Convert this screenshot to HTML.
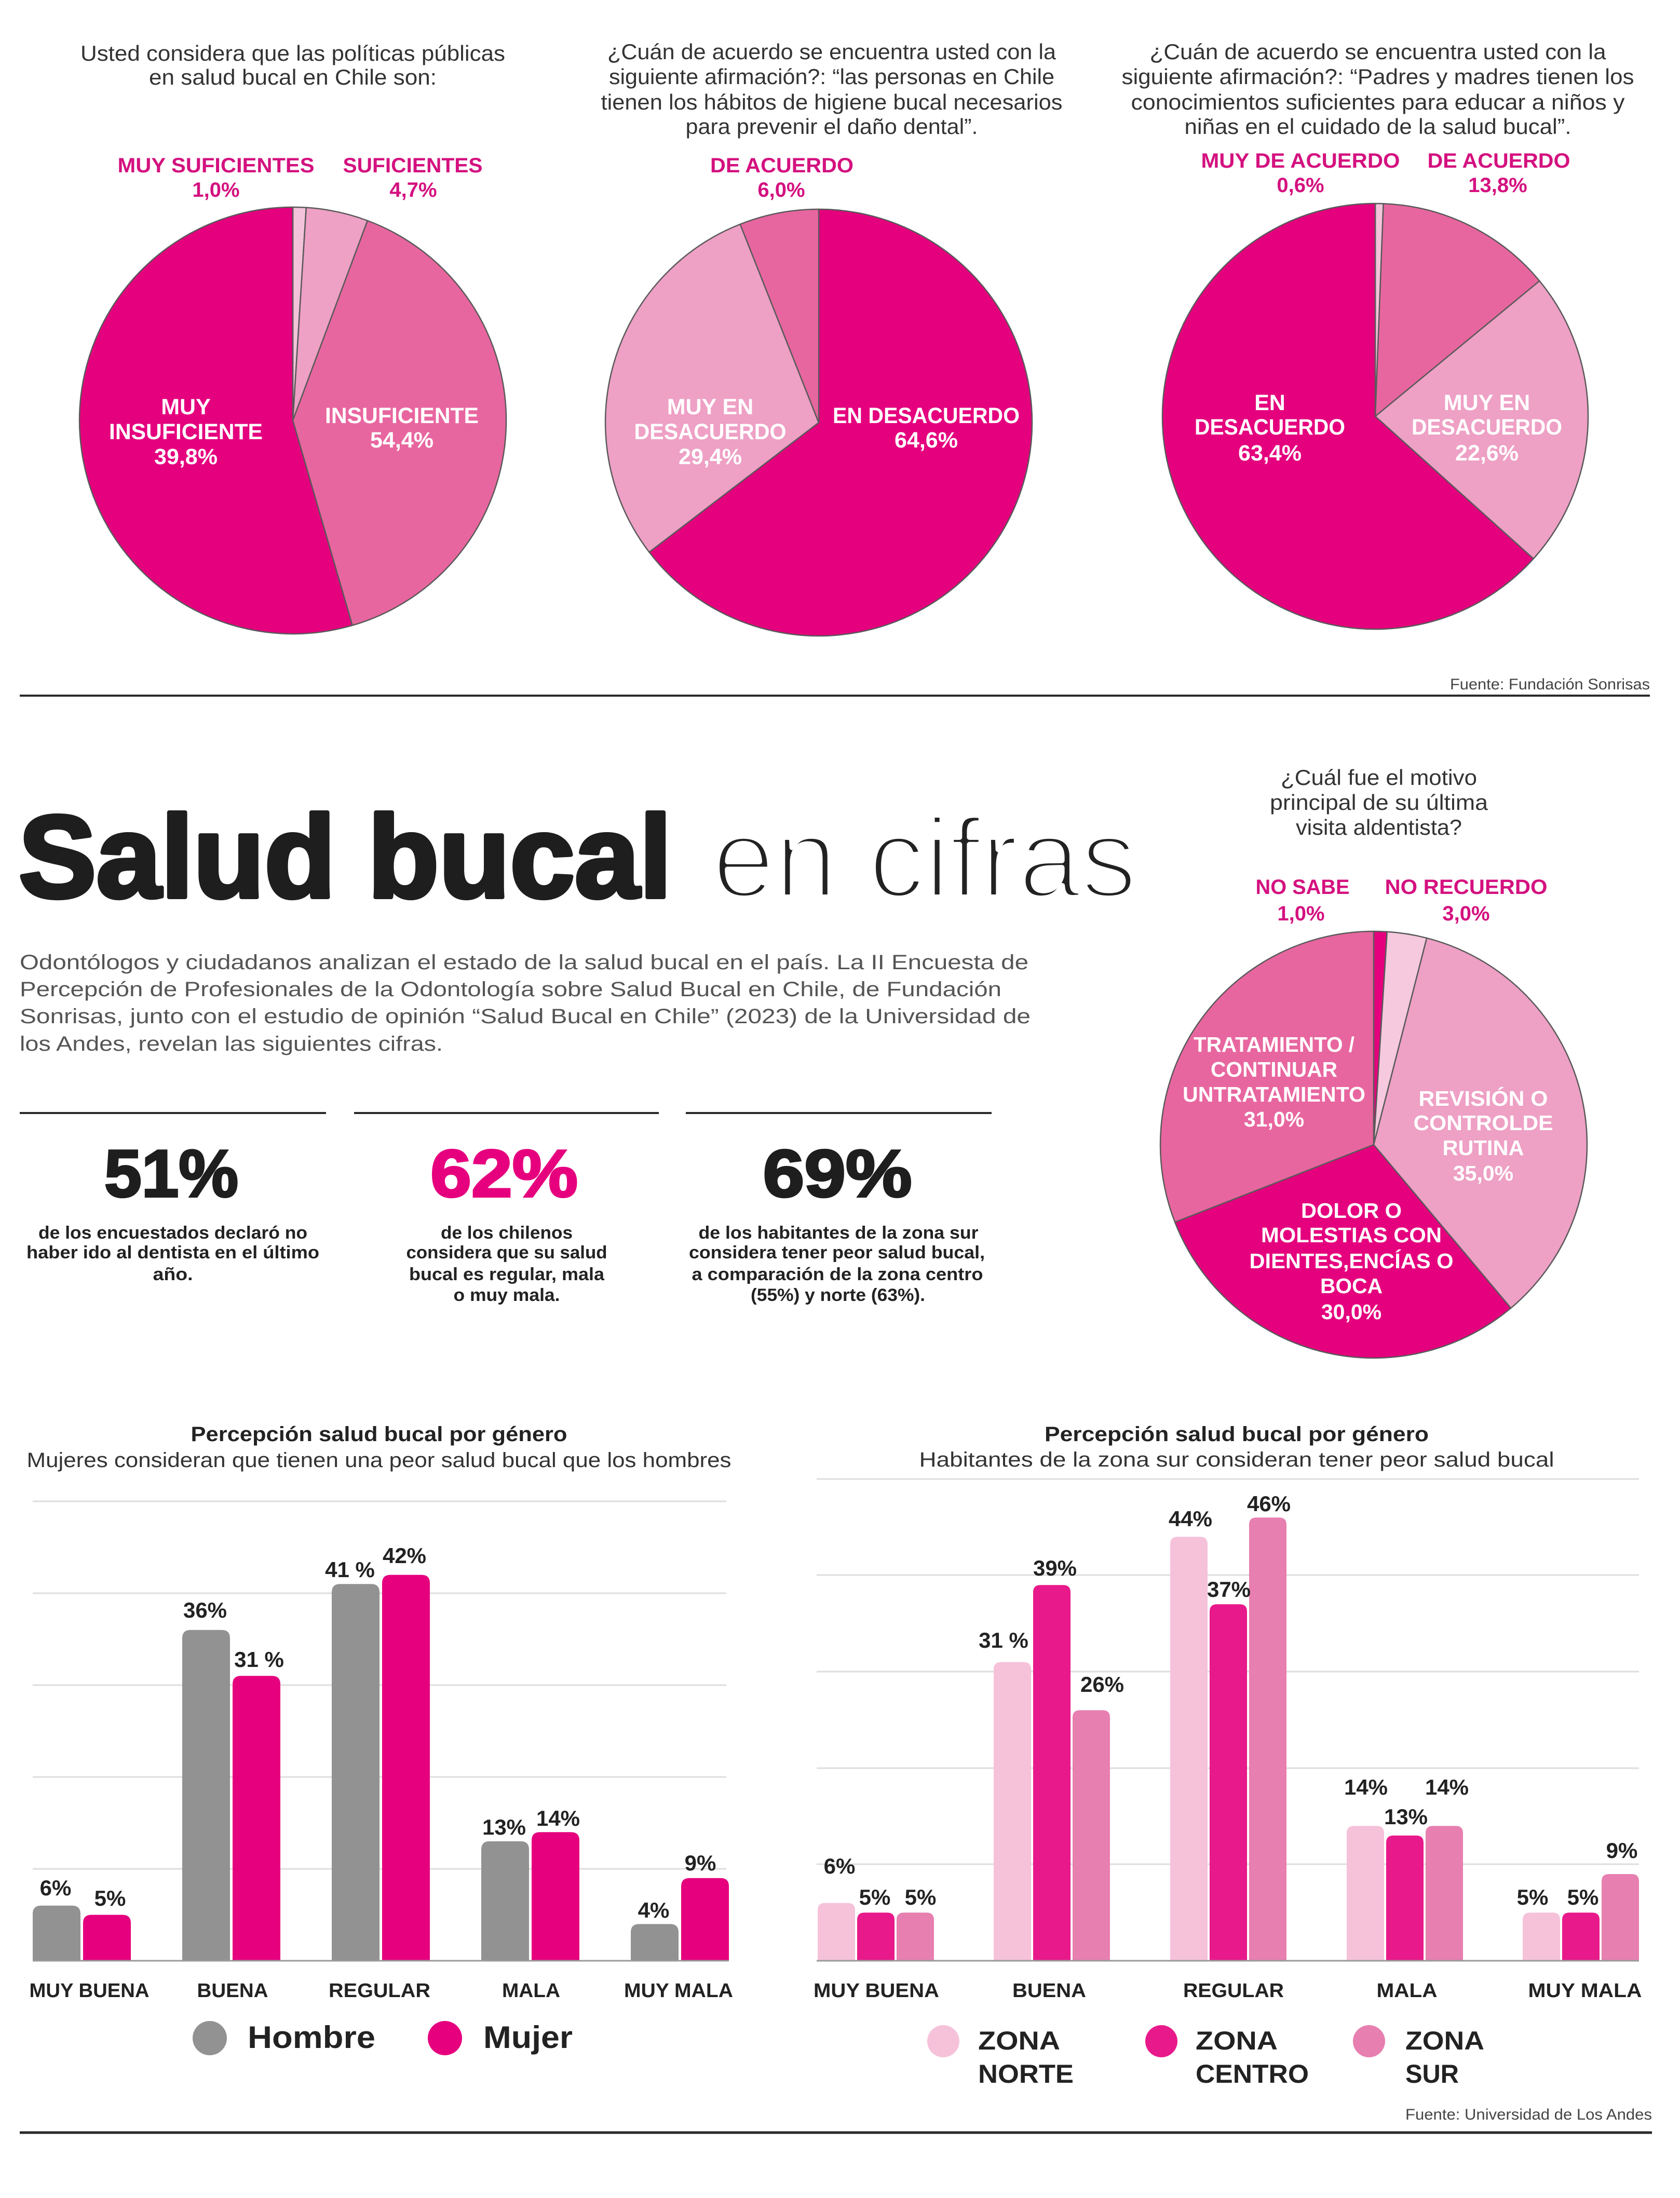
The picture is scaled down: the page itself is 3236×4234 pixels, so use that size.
<!DOCTYPE html>
<html><head><meta charset="utf-8"><style>
html,body{margin:0;padding:0;background:#fff;}
svg{display:block;}
text{font-family:"Liberation Sans",Arial,sans-serif;}
.t{fill:#333;font-size:42px;text-anchor:middle;}
.pk{fill:#d4117f;font-size:40px;font-weight:bold;text-anchor:middle;}
.w{fill:#fff;font-size:43px;font-weight:bold;text-anchor:middle;}
.w4{fill:#fff;font-size:41px;font-weight:bold;text-anchor:middle;}
.cap{fill:#222;font-size:34px;font-weight:bold;text-anchor:middle;}
.par{fill:#555;font-size:40px;}
.v{fill:#222;font-size:42px;font-weight:bold;text-anchor:middle;}
.cat{fill:#222;font-size:38px;font-weight:bold;text-anchor:middle;}
.sl{stroke:#5a5a5a;stroke-width:2.5;stroke-linejoin:round;}
</style></head><body>
<svg width="3236" height="4234" viewBox="0 0 3236 4234" xmlns="http://www.w3.org/2000/svg">
<rect width="3236" height="4234" fill="#fff"/>

<!-- PIE 1 -->
<text class="t" x="564" y="117" textLength="818" lengthAdjust="spacingAndGlyphs">Usted considera que las políticas públicas</text>
<text class="t" x="564" y="163" textLength="554" lengthAdjust="spacingAndGlyphs">en salud bucal en Chile son:</text>
<text class="pk" x="416" y="332" textLength="379" lengthAdjust="spacingAndGlyphs">MUY SUFICIENTES</text>
<text class="pk" x="416" y="379">1,0%</text>
<text class="pk" x="795" y="332" textLength="269" lengthAdjust="spacingAndGlyphs">SUFICIENTES</text>
<text class="pk" x="796" y="379">4,7%</text>
<g class="sl">
<path d="M564,810L564,399A411,411 0 0 1 589.8,399.8Z" fill="#f3c3da"/>
<path d="M564,810L589.8,399.8A411,411 0 0 1 707.9,425Z" fill="#eea0c5"/>
<path d="M564,810L707.9,425A411,411 0 0 1 678.7,1204.7Z" fill="#e8669f"/>
<path d="M564,810L678.7,1204.7A411,411 0 1 1 564,399Z" fill="#e5007e"/>
</g>
<text class="w" x="358" y="798">MUY</text>
<text class="w" x="358" y="846" textLength="296" lengthAdjust="spacingAndGlyphs">INSUFICIENTE</text>
<text class="w" x="358" y="894">39,8%</text>
<text class="w" x="774" y="815" textLength="296" lengthAdjust="spacingAndGlyphs">INSUFICIENTE</text>
<text class="w" x="774" y="862">54,4%</text>

<!-- PIE 2 -->
<text class="t" x="1602" y="114" textLength="864" lengthAdjust="spacingAndGlyphs">¿Cuán de acuerdo se encuentra usted con la</text>
<text class="t" x="1602" y="162" textLength="858" lengthAdjust="spacingAndGlyphs">siguiente afirmación?: “las personas en Chile</text>
<text class="t" x="1602" y="211" textLength="889" lengthAdjust="spacingAndGlyphs">tienen los hábitos de higiene bucal necesarios</text>
<text class="t" x="1602" y="258" textLength="563" lengthAdjust="spacingAndGlyphs">para prevenir el daño dental”.</text>
<text class="pk" x="1506" y="332" textLength="276" lengthAdjust="spacingAndGlyphs">DE ACUERDO</text>
<text class="pk" x="1505" y="379">6,0%</text>
<g class="sl">
<path d="M1577,814L1577,403A411,411 0 1 1 1250.5,1063.6Z" fill="#e5007e"/>
<path d="M1577,814L1250.5,1063.6A411,411 0 0 1 1425.7,431.9Z" fill="#eea0c5"/>
<path d="M1577,814L1425.7,431.9A411,411 0 0 1 1577,403Z" fill="#e8669f"/>
</g>
<text class="w" x="1368" y="798">MUY EN</text>
<text class="w" x="1368" y="846" textLength="293" lengthAdjust="spacingAndGlyphs">DESACUERDO</text>
<text class="w" x="1368" y="894">29,4%</text>
<text class="w" x="1784" y="815" textLength="360" lengthAdjust="spacingAndGlyphs">EN DESACUERDO</text>
<text class="w" x="1784" y="862">64,6%</text>

<!-- PIE 3 -->
<text class="t" x="2654" y="114" textLength="879" lengthAdjust="spacingAndGlyphs">¿Cuán de acuerdo se encuentra usted con la</text>
<text class="t" x="2654" y="162" textLength="987" lengthAdjust="spacingAndGlyphs">siguiente afirmación?: “Padres y madres tienen los</text>
<text class="t" x="2654" y="211" textLength="951" lengthAdjust="spacingAndGlyphs">conocimientos suficientes para educar a niños y</text>
<text class="t" x="2654" y="258" textLength="745" lengthAdjust="spacingAndGlyphs">niñas en el cuidado de la salud bucal”.</text>
<text class="pk" x="2505" y="323" textLength="383" lengthAdjust="spacingAndGlyphs">MUY DE ACUERDO</text>
<text class="pk" x="2505" y="370">0,6%</text>
<text class="pk" x="2887" y="323" textLength="275" lengthAdjust="spacingAndGlyphs">DE ACUERDO</text>
<text class="pk" x="2885" y="370">13,8%</text>
<g class="sl">
<path d="M2649,802L2649,392A410,410 0 0 1 2664.7,392.3Z" fill="#f3c3da"/>
<path d="M2649,802L2664.7,392.3A410,410 0 0 1 2965.4,541.2Z" fill="#e8669f"/>
<path d="M2649,802L2965.4,541.2A410,410 0 0 1 2953.7,1076.3Z" fill="#eea0c5"/>
<path d="M2649,802L2953.7,1076.3A410,410 0 1 1 2649,392Z" fill="#e5007e"/>
</g>
<text class="w" x="2446" y="790">EN</text>
<text class="w" x="2446" y="837" textLength="290" lengthAdjust="spacingAndGlyphs">DESACUERDO</text>
<text class="w" x="2446" y="887">63,4%</text>
<text class="w" x="2864" y="790">MUY EN</text>
<text class="w" x="2864" y="837" textLength="290" lengthAdjust="spacingAndGlyphs">DESACUERDO</text>
<text class="w" x="2864" y="887">22,6%</text>

<text x="3178" y="1328" text-anchor="end" font-size="30" fill="#444" textLength="385" lengthAdjust="spacingAndGlyphs">Fuente: Fundación Sonrisas</text>
<line x1="38" y1="1340" x2="3178" y2="1340" stroke="#2a2a2a" stroke-width="4"/>

<!-- TITLE -->
<text x="36" y="1728" font-size="225" font-weight="bold" fill="#1e1e1e" stroke="#1e1e1e" stroke-width="8" stroke-linejoin="round" textLength="1258" lengthAdjust="spacingAndGlyphs">Salud bucal</text>
<text x="1372" y="1728" font-size="218" fill="#222" textLength="818" lengthAdjust="spacingAndGlyphs">en cifras</text>
<text x="1372" y="1728" font-size="218" fill="none" stroke="#fff" stroke-width="10" stroke-linejoin="round" textLength="818" lengthAdjust="spacingAndGlyphs">en cifras</text>

<!-- PARAGRAPH -->
<text class="par" x="38" y="1867" textLength="1943" lengthAdjust="spacingAndGlyphs">Odontólogos y ciudadanos analizan el estado de la salud bucal en el país. La II Encuesta de</text>
<text class="par" x="38" y="1919" textLength="1891" lengthAdjust="spacingAndGlyphs">Percepción de Profesionales de la Odontología sobre Salud Bucal en Chile, de Fundación</text>
<text class="par" x="38" y="1971" textLength="1947" lengthAdjust="spacingAndGlyphs">Sonrisas, junto con el estudio de opinión “Salud Bucal en Chile” (2023) de la Universidad de</text>
<text class="par" x="38" y="2024" textLength="815" lengthAdjust="spacingAndGlyphs">los Andes, revelan las siguientes cifras.</text>

<!-- STATS -->
<g stroke="#2a2a2a" stroke-width="4">
<line x1="38" y1="2144" x2="628" y2="2144"/>
<line x1="682" y1="2144" x2="1269" y2="2144"/>
<line x1="1321" y1="2144" x2="1910" y2="2144"/>
</g>
<text x="330" y="2305" font-size="129" font-weight="bold" fill="#1e1e1e" stroke="#1e1e1e" stroke-width="4" text-anchor="middle" textLength="258" lengthAdjust="spacingAndGlyphs">51%</text>
<text x="971" y="2305" font-size="129" font-weight="bold" fill="#e6007e" stroke="#e6007e" stroke-width="4" text-anchor="middle" textLength="284" lengthAdjust="spacingAndGlyphs">62%</text>
<text x="1613" y="2305" font-size="129" font-weight="bold" fill="#1e1e1e" stroke="#1e1e1e" stroke-width="4" text-anchor="middle" textLength="287" lengthAdjust="spacingAndGlyphs">69%</text>

<text class="cap" x="333" y="2386" textLength="518" lengthAdjust="spacingAndGlyphs">de los encuestados declaró no</text>
<text class="cap" x="333" y="2424" textLength="564" lengthAdjust="spacingAndGlyphs">haber ido al dentista en el último</text>
<text class="cap" x="333" y="2466" textLength="77" lengthAdjust="spacingAndGlyphs">año.</text>
<text class="cap" x="976" y="2386" textLength="254" lengthAdjust="spacingAndGlyphs">de los chilenos</text>
<text class="cap" x="976" y="2424" textLength="387" lengthAdjust="spacingAndGlyphs">considera que su salud</text>
<text class="cap" x="976" y="2466" textLength="376" lengthAdjust="spacingAndGlyphs">bucal es regular, mala</text>
<text class="cap" x="976" y="2506" textLength="205" lengthAdjust="spacingAndGlyphs">o muy mala.</text>
<text class="cap" x="1615" y="2386" textLength="539" lengthAdjust="spacingAndGlyphs">de los habitantes de la zona sur</text>
<text class="cap" x="1612" y="2424" textLength="570" lengthAdjust="spacingAndGlyphs">considera tener peor salud bucal,</text>
<text class="cap" x="1613" y="2466" textLength="561" lengthAdjust="spacingAndGlyphs">a comparación de la zona centro</text>
<text class="cap" x="1614" y="2506" textLength="336" lengthAdjust="spacingAndGlyphs">(55%) y norte (63%).</text>

<!-- PIE 4 -->
<text class="t" x="2656" y="1512" textLength="378" lengthAdjust="spacingAndGlyphs">¿Cuál fue el motivo</text>
<text class="t" x="2656" y="1560" textLength="420" lengthAdjust="spacingAndGlyphs">principal de su última</text>
<text class="t" x="2656" y="1608" textLength="320" lengthAdjust="spacingAndGlyphs">visita aldentista?</text>
<text class="pk" x="2509" y="1722" textLength="181" lengthAdjust="spacingAndGlyphs">NO SABE</text>
<text class="pk" x="2506" y="1773">1,0%</text>
<text class="pk" x="2824" y="1722" textLength="313" lengthAdjust="spacingAndGlyphs">NO RECUERDO</text>
<text class="pk" x="2824" y="1773">3,0%</text>
<g class="sl">
<path d="M2646,2205L2646,1794A411,411 0 0 1 2671.8,1794.8Z" fill="#e5007e"/>
<path d="M2646,2205L2671.8,1794.8A411,411 0 0 1 2748.2,1806.9Z" fill="#f6c9de"/>
<path d="M2646,2205L2748.2,1806.9A411,411 0 0 1 2910.2,2519.8Z" fill="#eea0c5"/>
<path d="M2646,2205L2910.2,2519.8A411,411 0 0 1 2263.1,2354.3Z" fill="#e5007e"/>
<path d="M2646,2205L2263.1,2354.3A411,411 0 0 1 2646,1794Z" fill="#e8669f"/>
</g>
<text class="w4" x="2454" y="2026" textLength="310" lengthAdjust="spacingAndGlyphs">TRATAMIENTO /</text>
<text class="w4" x="2454" y="2074" textLength="244" lengthAdjust="spacingAndGlyphs">CONTINUAR</text>
<text class="w4" x="2454" y="2122" textLength="352" lengthAdjust="spacingAndGlyphs">UNTRATAMIENTO</text>
<text class="w4" x="2454" y="2170">31,0%</text>
<text class="w4" x="2857" y="2130" textLength="249" lengthAdjust="spacingAndGlyphs">REVISIÓN O</text>
<text class="w4" x="2857" y="2177" textLength="269" lengthAdjust="spacingAndGlyphs">CONTROLDE</text>
<text class="w4" x="2857" y="2225" textLength="157" lengthAdjust="spacingAndGlyphs">RUTINA</text>
<text class="w4" x="2857" y="2274">35,0%</text>
<text class="w4" x="2603" y="2346" textLength="194" lengthAdjust="spacingAndGlyphs">DOLOR O</text>
<text class="w4" x="2603" y="2393" textLength="348" lengthAdjust="spacingAndGlyphs">MOLESTIAS CON</text>
<text class="w4" x="2603" y="2443" textLength="393" lengthAdjust="spacingAndGlyphs">DIENTES,ENCÍAS O</text>
<text class="w4" x="2603" y="2491" textLength="120" lengthAdjust="spacingAndGlyphs">BOCA</text>
<text class="w4" x="2603" y="2541">30,0%</text>

<!-- LEFT BAR CHART -->
<text x="730" y="2776" font-size="40" font-weight="bold" fill="#222" text-anchor="middle" textLength="725" lengthAdjust="spacingAndGlyphs">Percepción salud bucal por género</text>
<text x="730" y="2826" font-size="40" fill="#333" text-anchor="middle" textLength="1357" lengthAdjust="spacingAndGlyphs">Mujeres consideran que tienen una peor salud bucal que los hombres</text>
<g stroke="#dedede" stroke-width="3">
<line x1="63" y1="2892" x2="1399" y2="2892"/>
<line x1="63" y1="3069" x2="1399" y2="3069"/>
<line x1="63" y1="3246" x2="1399" y2="3246"/>
<line x1="63" y1="3423" x2="1399" y2="3423"/>
<line x1="63" y1="3600" x2="1399" y2="3600"/>
</g>
<g fill="#929292">
<path d="M63,3777V3686.8Q63,3670.8 79,3670.8H139Q155,3670.8 155,3686.8V3777Z"/>
<path d="M351,3777V3155.8Q351,3139.8 367,3139.8H427Q443,3139.8 443,3155.8V3777Z"/>
<path d="M639,3777V3067.3Q639,3051.3 655,3051.3H715Q731,3051.3 731,3067.3V3777Z"/>
<path d="M927,3777V3562.9Q927,3546.9 943,3546.9H1003Q1019,3546.9 1019,3562.9V3777Z"/>
<path d="M1215,3777V3722.2Q1215,3706.2 1231,3706.2H1291Q1307,3706.2 1307,3722.2V3777Z"/>
</g>
<g fill="#e6007e">
<path d="M160,3777V3704.5Q160,3688.5 176,3688.5H236Q252,3688.5 252,3704.5V3777Z"/>
<path d="M448,3777V3244.3Q448,3228.3 464,3228.3H524Q540,3228.3 540,3244.3V3777Z"/>
<path d="M736,3777V3049.6Q736,3033.6 752,3033.6H812Q828,3033.6 828,3049.6V3777Z"/>
<path d="M1024,3777V3545.2Q1024,3529.2 1040,3529.2H1100Q1116,3529.2 1116,3545.2V3777Z"/>
<path d="M1312,3777V3633.7Q1312,3617.7 1328,3617.7H1388Q1404,3617.7 1404,3633.7V3777Z"/>
</g>
<line x1="63" y1="3777" x2="1404" y2="3777" stroke="#9a9a9a" stroke-width="3"/>
<text class="v" x="107" y="3651">6%</text>
<text class="v" x="212" y="3671">5%</text>
<text class="v" x="395" y="3116">36%</text>
<text class="v" x="499" y="3211">31 %</text>
<text class="v" x="674" y="3038">41 %</text>
<text class="v" x="779" y="3011">42%</text>
<text class="v" x="971" y="3534">13%</text>
<text class="v" x="1075" y="3517">14%</text>
<text class="v" x="1259" y="3694">4%</text>
<text class="v" x="1349" y="3603">9%</text>
<text class="cat" x="172" y="3847" textLength="231" lengthAdjust="spacingAndGlyphs">MUY BUENA</text>
<text class="cat" x="448" y="3847" textLength="137" lengthAdjust="spacingAndGlyphs">BUENA</text>
<text class="cat" x="731" y="3847" textLength="196" lengthAdjust="spacingAndGlyphs">REGULAR</text>
<text class="cat" x="1023" y="3847" textLength="112" lengthAdjust="spacingAndGlyphs">MALA</text>
<text class="cat" x="1307" y="3847" textLength="210" lengthAdjust="spacingAndGlyphs">MUY MALA</text>
<circle cx="404" cy="3926" r="33" fill="#929292"/>
<circle cx="857" cy="3926" r="33" fill="#e6007e"/>
<text x="477" y="3945" font-size="60" font-weight="bold" fill="#222" textLength="246" lengthAdjust="spacingAndGlyphs">Hombre</text>
<text x="931" y="3945" font-size="60" font-weight="bold" fill="#222" textLength="172" lengthAdjust="spacingAndGlyphs">Mujer</text>

<!-- RIGHT BAR CHART -->
<text x="2382" y="2776" font-size="40" font-weight="bold" fill="#222" text-anchor="middle" textLength="740" lengthAdjust="spacingAndGlyphs">Percepción salud bucal por género</text>
<text x="2382" y="2825" font-size="40" fill="#333" text-anchor="middle" textLength="1223" lengthAdjust="spacingAndGlyphs">Habitantes de la zona sur consideran tener peor salud bucal</text>
<g stroke="#dedede" stroke-width="3">
<line x1="1573" y1="2849" x2="3157" y2="2849"/>
<line x1="1573" y1="3034" x2="3157" y2="3034"/>
<line x1="1573" y1="3220" x2="3157" y2="3220"/>
<line x1="1573" y1="3406" x2="3157" y2="3406"/>
<line x1="1573" y1="3591" x2="3157" y2="3591"/>
</g>
<g fill="#f5c2da">
<path d="M1575,3777V3679.6Q1575,3665.6 1589,3665.6H1633Q1647,3665.6 1647,3679.6V3777Z"/>
<path d="M1914,3777V3215.6Q1914,3201.6 1928,3201.6H1972Q1986,3201.6 1986,3215.6V3777Z"/>
<path d="M2254,3777V2974.4Q2254,2960.4 2268,2960.4H2312Q2326,2960.4 2326,2974.4V3777Z"/>
<path d="M2594,3777V3531.2Q2594,3517.2 2608,3517.2H2652Q2666,3517.2 2666,3531.2V3777Z"/>
<path d="M2933,3777V3698.2Q2933,3684.2 2947,3684.2H2991Q3005,3684.2 3005,3698.2V3777Z"/>
</g>
<g fill="#e8198a">
<path d="M1651,3777V3698.2Q1651,3684.2 1665,3684.2H1709Q1723,3684.2 1723,3698.2V3777Z"/>
<path d="M1990,3777V3067.2Q1990,3053.2 2004,3053.2H2048Q2062,3053.2 2062,3067.2V3777Z"/>
<path d="M2330,3777V3104.3Q2330,3090.3 2344,3090.3H2388Q2402,3090.3 2402,3104.3V3777Z"/>
<path d="M2670,3777V3549.7Q2670,3535.7 2684,3535.7H2728Q2742,3535.7 2742,3549.7V3777Z"/>
<path d="M3009,3777V3698.2Q3009,3684.2 3023,3684.2H3067Q3081,3684.2 3081,3698.2V3777Z"/>
</g>
<g fill="#e77fb0">
<path d="M1727,3777V3698.2Q1727,3684.2 1741,3684.2H1785Q1799,3684.2 1799,3698.2V3777Z"/>
<path d="M2066,3777V3308.4Q2066,3294.4 2080,3294.4H2124Q2138,3294.4 2138,3308.4V3777Z"/>
<path d="M2406,3777V2937.2Q2406,2923.2 2420,2923.2H2464Q2478,2923.2 2478,2937.2V3777Z"/>
<path d="M2746,3777V3531.2Q2746,3517.2 2760,3517.2H2804Q2818,3517.2 2818,3531.2V3777Z"/>
<path d="M3085,3777V3624Q3085,3610 3099,3610H3143Q3157,3610 3157,3624V3777Z"/>
</g>
<line x1="1573" y1="3777" x2="3157" y2="3777" stroke="#9a9a9a" stroke-width="3"/>
<text class="v" x="1617" y="3609">6%</text>
<text class="v" x="1685" y="3669">5%</text>
<text class="v" x="1773" y="3669">5%</text>
<text class="v" x="1933" y="3174">31 %</text>
<text class="v" x="2032" y="3035">39%</text>
<text class="v" x="2123" y="3259">26%</text>
<text class="v" x="2293" y="2940">44%</text>
<text class="v" x="2367" y="3076">37%</text>
<text class="v" x="2444" y="2911">46%</text>
<text class="v" x="2631" y="3457">14%</text>
<text class="v" x="2708" y="3514">13%</text>
<text class="v" x="2787" y="3457">14%</text>
<text class="v" x="2952" y="3669">5%</text>
<text class="v" x="3049" y="3669">5%</text>
<text class="v" x="3124" y="3579">9%</text>
<text class="cat" x="1688" y="3847" textLength="242" lengthAdjust="spacingAndGlyphs">MUY BUENA</text>
<text class="cat" x="2021" y="3847" textLength="142" lengthAdjust="spacingAndGlyphs">BUENA</text>
<text class="cat" x="2376" y="3847" textLength="194" lengthAdjust="spacingAndGlyphs">REGULAR</text>
<text class="cat" x="2710" y="3847" textLength="117" lengthAdjust="spacingAndGlyphs">MALA</text>
<text class="cat" x="3053" y="3847" textLength="219" lengthAdjust="spacingAndGlyphs">MUY MALA</text>
<circle cx="1817" cy="3932" r="31" fill="#f5c2da"/>
<circle cx="2237" cy="3932" r="31" fill="#e8198a"/>
<circle cx="2637" cy="3932" r="31" fill="#e77fb0"/>
<g font-size="50" font-weight="bold" fill="#222">
<text x="1884" y="3948" textLength="158" lengthAdjust="spacingAndGlyphs">ZONA</text>
<text x="1884" y="4012" textLength="184" lengthAdjust="spacingAndGlyphs">NORTE</text>
<text x="2303" y="3948" textLength="158" lengthAdjust="spacingAndGlyphs">ZONA</text>
<text x="2303" y="4012" textLength="218" lengthAdjust="spacingAndGlyphs">CENTRO</text>
<text x="2707" y="3948" textLength="152" lengthAdjust="spacingAndGlyphs">ZONA</text>
<text x="2707" y="4012" textLength="103" lengthAdjust="spacingAndGlyphs">SUR</text>
</g>
<text x="3182" y="4083" text-anchor="end" font-size="30" fill="#444" textLength="475" lengthAdjust="spacingAndGlyphs">Fuente: Universidad de Los Andes</text>
<line x1="38" y1="4108" x2="3182" y2="4108" stroke="#2a2a2a" stroke-width="5"/>
</svg>
</body></html>
